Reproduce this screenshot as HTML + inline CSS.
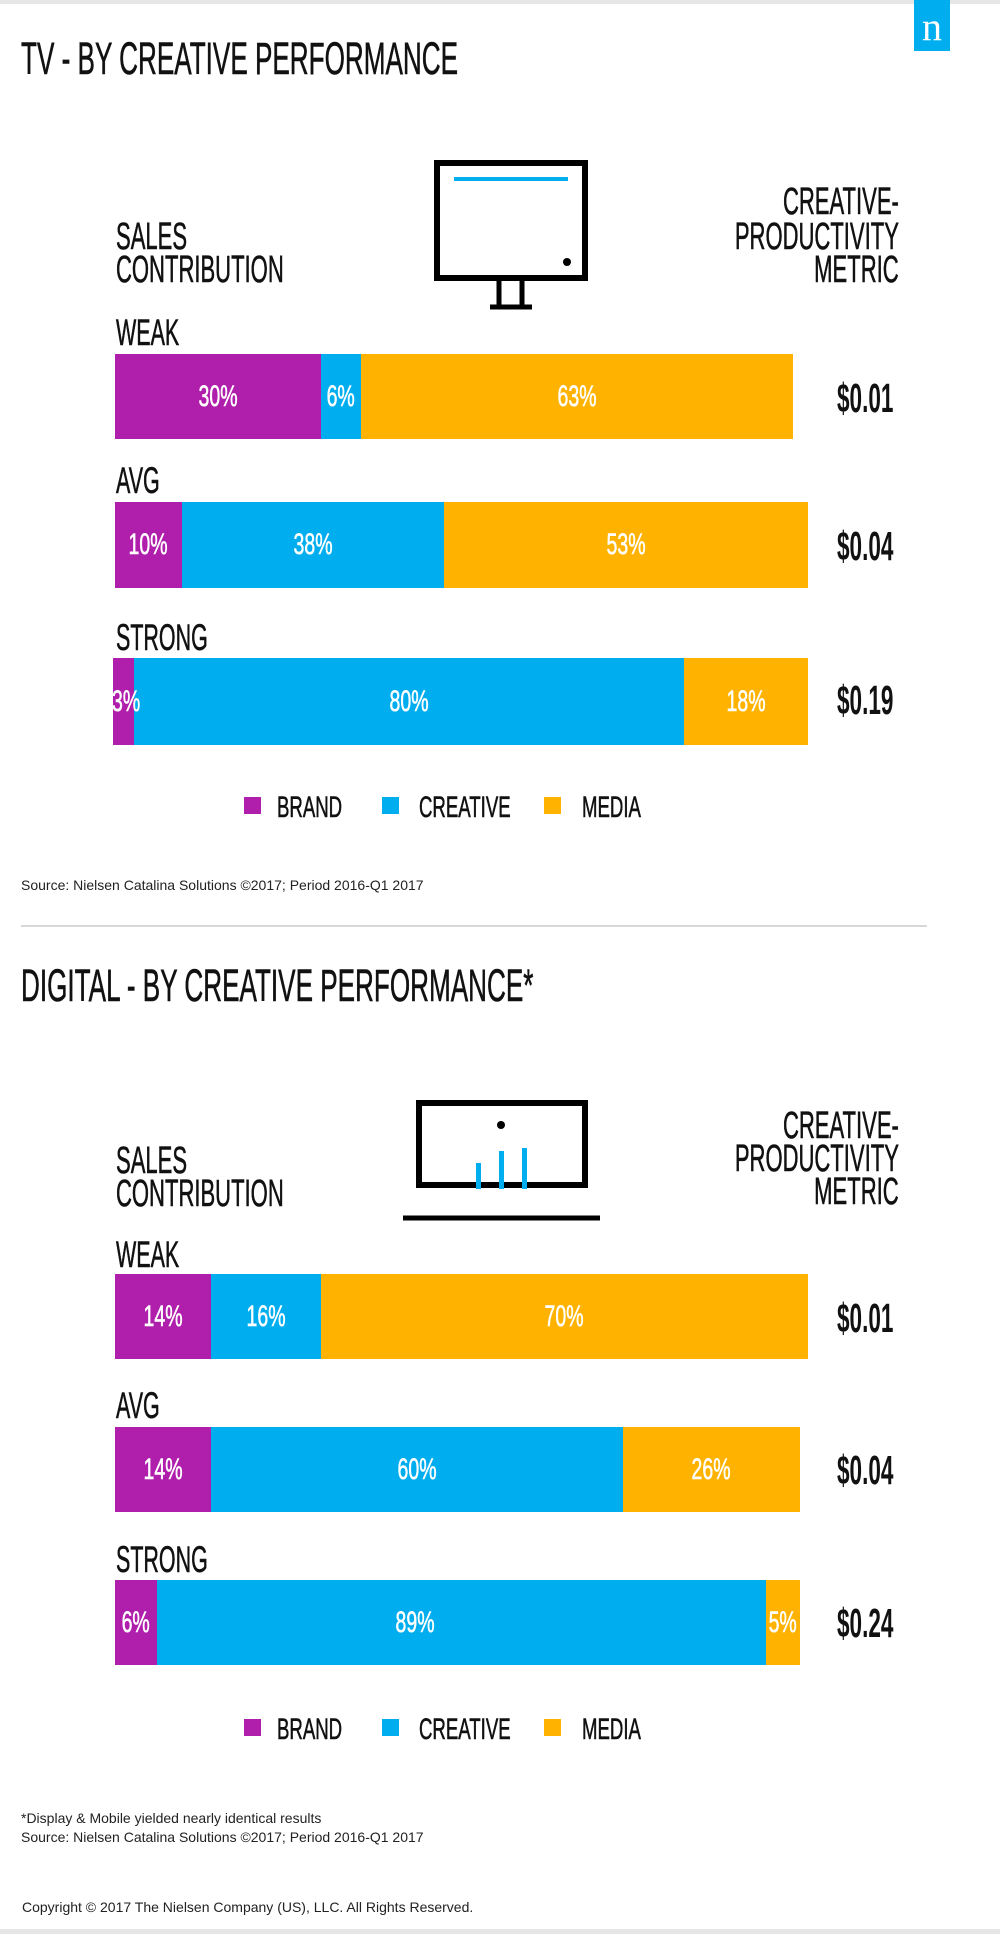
<!DOCTYPE html>
<html><head><meta charset="utf-8"><style>
body{margin:0;width:1000px;height:1934px;position:relative;background:#fff;overflow:hidden;font-family:"Liberation Sans",sans-serif;color:#111}
.t{position:absolute;line-height:1;white-space:nowrap;transform:scaleX(.58);transform-origin:left top;-webkit-text-stroke:0.6px #111}
.r{transform-origin:right top;text-align:right}
.bar{position:absolute;display:flex}
.bar div{height:100%;display:flex;align-items:center;justify-content:center;color:#fff;font-size:30px;overflow:visible;white-space:nowrap;min-width:0;flex-shrink:0}
.bar span{display:inline-block;transform:scaleX(.65);-webkit-text-stroke:0.6px #fff}
.p{background:#b01fac}.b{background:#00aeef}.y{background:#ffb300}
.h{font-size:45px}
.hd{font-size:38px}
.lb{font-size:37px}
.v{font-size:41px;font-weight:bold;transform:scaleX(.55);-webkit-text-stroke:0}
.lg{font-size:30px;transform:scaleX(.62)}
.sq{position:absolute;width:17px;height:17px}
.s{position:absolute;white-space:nowrap;line-height:1;font-size:14px;color:#222}
</style></head><body>
<div style="position:absolute;left:0;top:0;width:1000px;height:4px;background:#e6e6e6"></div>
<div style="position:absolute;left:914px;top:0;width:36px;height:51px;background:#00aeef;color:#fff;font-family:'Liberation Serif',serif;font-size:40px;line-height:54px;text-align:center">n</div>

<div class="t h" style="left:21px;top:36px">TV - BY CREATIVE PERFORMANCE</div>

<svg style="position:absolute;left:0;top:0" width="1000" height="900">
<rect x="437" y="163" width="148" height="115" fill="none" stroke="#000" stroke-width="6"/>
<rect x="454" y="177" width="114" height="4" fill="#00aeef"/>
<circle cx="567" cy="262" r="4" fill="#000"/>
<line x1="499" y1="281" x2="499" y2="305" stroke="#000" stroke-width="5"/>
<line x1="522" y1="281" x2="522" y2="305" stroke="#000" stroke-width="5"/>
<line x1="490" y1="307" x2="532" y2="307" stroke="#000" stroke-width="5"/>
</svg>

<div class="t hd" style="left:116px;top:218px">SALES</div>
<div class="t hd" style="left:116px;top:251px">CONTRIBUTION</div>
<div class="t hd r" style="right:101px;top:183px">CREATIVE-</div>
<div class="t hd r" style="right:101px;top:218px">PRODUCTIVITY</div>
<div class="t hd r" style="right:101px;top:251px">METRIC</div>

<div class="t lb" style="left:116px;top:314px">WEAK</div>
<div class="bar" style="left:115px;top:354px;width:678px;height:85px"><div class="p" style="width:206px"><span>30%</span></div><div class="b" style="width:40px"><span>6%</span></div><div class="y" style="width:432px"><span>63%</span></div></div>
<div class="t v" style="left:837px;top:378px">$0.01</div>

<div class="t lb" style="left:116px;top:462px">AVG</div>
<div class="bar" style="left:115px;top:502px;width:693px;height:86px"><div class="p" style="width:67px"><span>10%</span></div><div class="b" style="width:262px"><span>38%</span></div><div class="y" style="width:364px"><span>53%</span></div></div>
<div class="t v" style="left:837px;top:526px">$0.04</div>

<div class="t lb" style="left:116px;top:619px">STRONG</div>
<div class="bar" style="left:113px;top:658px;width:695px;height:87px"><div class="p" style="width:21px;justify-content:flex-start"><span style="transform-origin:left;margin-left:-1px">3%</span></div><div class="b" style="width:550px"><span>80%</span></div><div class="y" style="width:124px"><span>18%</span></div></div>
<div class="t v" style="left:837px;top:680px">$0.19</div>

<div class="sq p" style="left:244px;top:797px"></div><div class="t lg" style="left:277px;top:793px">BRAND</div>
<div class="sq b" style="left:382px;top:797px"></div><div class="t lg" style="left:419px;top:793px">CREATIVE</div>
<div class="sq y" style="left:544px;top:797px"></div><div class="t lg" style="left:582px;top:793px">MEDIA</div>

<div class="s" style="left:21px;top:878px">Source: Nielsen Catalina Solutions ©2017; Period 2016-Q1 2017</div>
<div style="position:absolute;left:21px;top:925px;width:906px;height:2px;background:#d8d8d8"></div>

<div class="t h" style="left:21px;top:963px">DIGITAL - BY CREATIVE PERFORMANCE*</div>

<svg style="position:absolute;left:0;top:1000px" width="1000" height="300">
<rect x="419" y="103" width="166" height="82" fill="none" stroke="#000" stroke-width="6"/>
<line x1="403" y1="218" x2="600" y2="218" stroke="#000" stroke-width="5"/>
<circle cx="501" cy="125" r="4" fill="#000"/>
<rect x="476" y="163" width="5" height="26" fill="#00aeef"/>
<rect x="499" y="151" width="5" height="38" fill="#00aeef"/>
<rect x="522" y="148" width="5" height="41" fill="#00aeef"/>
</svg>

<div class="t hd" style="left:116px;top:1142px">SALES</div>
<div class="t hd" style="left:116px;top:1175px">CONTRIBUTION</div>
<div class="t hd r" style="right:101px;top:1107px">CREATIVE-</div>
<div class="t hd r" style="right:101px;top:1140px">PRODUCTIVITY</div>
<div class="t hd r" style="right:101px;top:1173px">METRIC</div>

<div class="t lb" style="left:116px;top:1236px">WEAK</div>
<div class="bar" style="left:115px;top:1274px;width:693px;height:85px"><div class="p" style="width:96px"><span>14%</span></div><div class="b" style="width:110px"><span>16%</span></div><div class="y" style="width:487px"><span>70%</span></div></div>
<div class="t v" style="left:837px;top:1298px">$0.01</div>

<div class="t lb" style="left:116px;top:1387px">AVG</div>
<div class="bar" style="left:115px;top:1427px;width:685px;height:85px"><div class="p" style="width:96px"><span>14%</span></div><div class="b" style="width:412px"><span>60%</span></div><div class="y" style="width:177px"><span>26%</span></div></div>
<div class="t v" style="left:837px;top:1450px">$0.04</div>

<div class="t lb" style="left:116px;top:1541px">STRONG</div>
<div class="bar" style="left:115px;top:1580px;width:685px;height:85px"><div class="p" style="width:42px"><span>6%</span></div><div class="b" style="width:609px"><span style="margin-right:92px">89%</span></div><div class="y" style="width:34px"><span>5%</span></div></div>
<div class="t v" style="left:837px;top:1603px">$0.24</div>

<div class="sq p" style="left:244px;top:1719px"></div><div class="t lg" style="left:277px;top:1715px">BRAND</div>
<div class="sq b" style="left:382px;top:1719px"></div><div class="t lg" style="left:419px;top:1715px">CREATIVE</div>
<div class="sq y" style="left:544px;top:1719px"></div><div class="t lg" style="left:582px;top:1715px">MEDIA</div>

<div class="s" style="left:21px;top:1811px">*Display &amp; Mobile yielded nearly identical results</div>
<div class="s" style="left:21px;top:1830px">Source: Nielsen Catalina Solutions ©2017; Period 2016-Q1 2017</div>
<div class="s" style="left:22px;top:1900px">Copyright © 2017 The Nielsen Company (US), LLC. All Rights Reserved.</div>
<div style="position:absolute;left:0;top:1929px;width:1000px;height:5px;background:#e6e6e6"></div>
</body></html>
